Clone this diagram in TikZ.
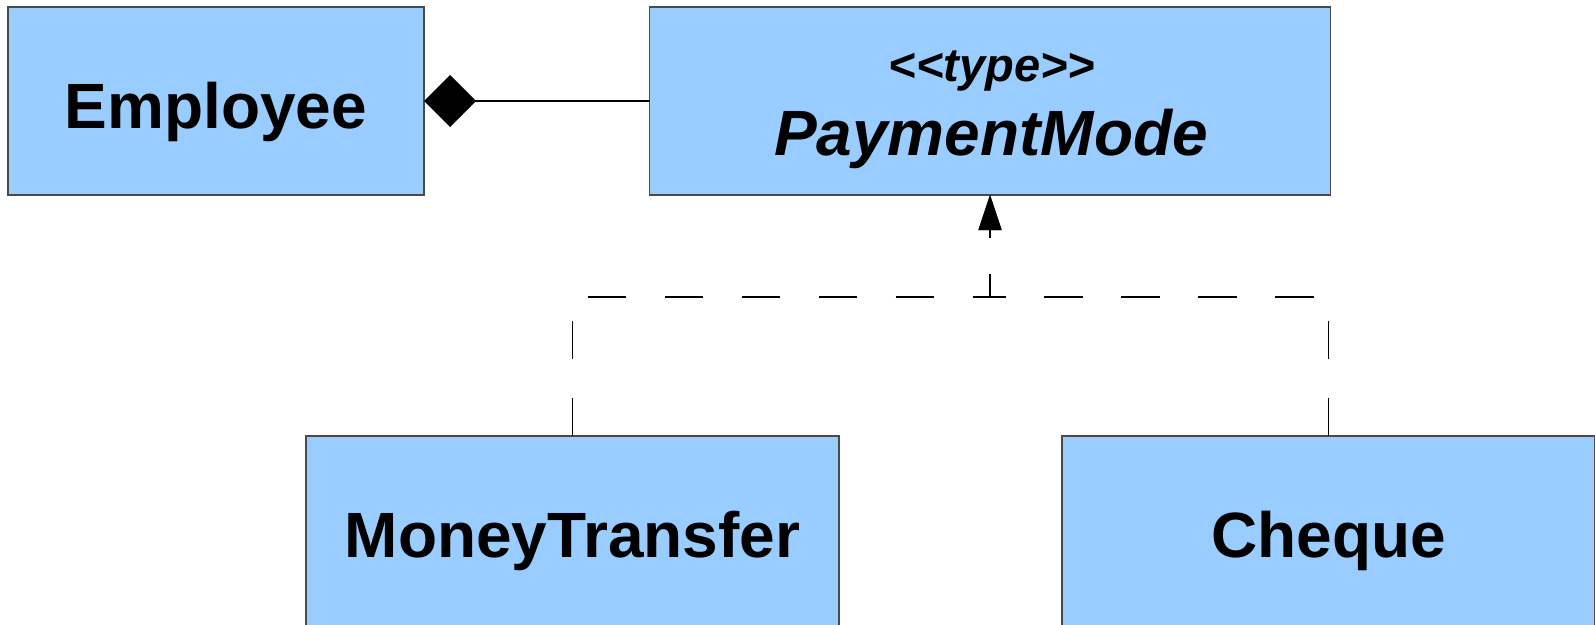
\documentclass[tikz,border=0pt]{standalone}
\usepackage{fontspec}
\newfontfamily\umlfont{Liberation Sans}
\usetikzlibrary{arrows.meta}
\definecolor{classfill}{HTML}{99CCFF}
\definecolor{classedge}{HTML}{4A4A4A}
\tikzset{
  classbox/.style={rectangle, draw=classedge, fill=classfill, line width=1.3pt,
    inner sep=0pt, outer sep=0pt, minimum height=188pt},
  classname/.style={anchor=base, inner sep=0pt,
    font=\umlfont\fontsize{64}{76}\selectfont\bfseries},
  abstractname/.style={classname,
    font=\umlfont\fontsize{64}{76}\selectfont\bfseries\itshape},
  stereotype/.style={anchor=base, inner sep=0pt,
    font=\umlfont\fontsize{47}{56}\selectfont\bfseries\itshape},
  realization/.style={draw=black, line width=1.3pt,
    dash pattern=on 38.5pt off 38.5pt,
    -{Triangle[length=35pt,width=23pt]}},
  composition/.style={draw=black, line width=1.3pt,
    {Diamond[length=52pt,width=52pt]}-},
}
\begin{document}
\begin{tikzpicture}[x=1pt,y=-1pt]
\useasboundingbox (0,0) rectangle (1595,624);
\clip (0,0) rectangle (1595,624);

% classes
\node[classbox, minimum width=416pt] (employee) at (216,101) {};
\node[classbox, minimum width=681pt] (paymode) at (990,101) {};
\node[classbox, minimum width=533pt, minimum height=200pt] (transfer) at (572.5,536) {};
\node[classbox, minimum width=533pt, minimum height=200pt] (cheque) at (1328.5,536) {};

% class names
\node[classname] (employeeLabel) at (216,128) {Employee};
\node[stereotype] (paymodeStereo) at (992,81) {<\kern0pt<type>\kern0pt>};
\node[abstractname] (paymodeLabel) at (991,155) {PaymentMode};
\node[classname] (transferLabel) at (572.5,557) {MoneyTransfer};
\node[classname] (chequeLabel) at (1328.5,557) {Cheque};

% composition: Employee owns a PaymentMode
\draw[composition] (employee.east) -- (paymode.west);

% realization of the PaymentMode type
\coordinate (join) at (990,297);
\draw[realization] (transfer.north) |- (join) -- (paymode.south);
\draw[realization] (cheque.north) |- (join) -- (paymode.south);
\end{tikzpicture}
\end{document}
